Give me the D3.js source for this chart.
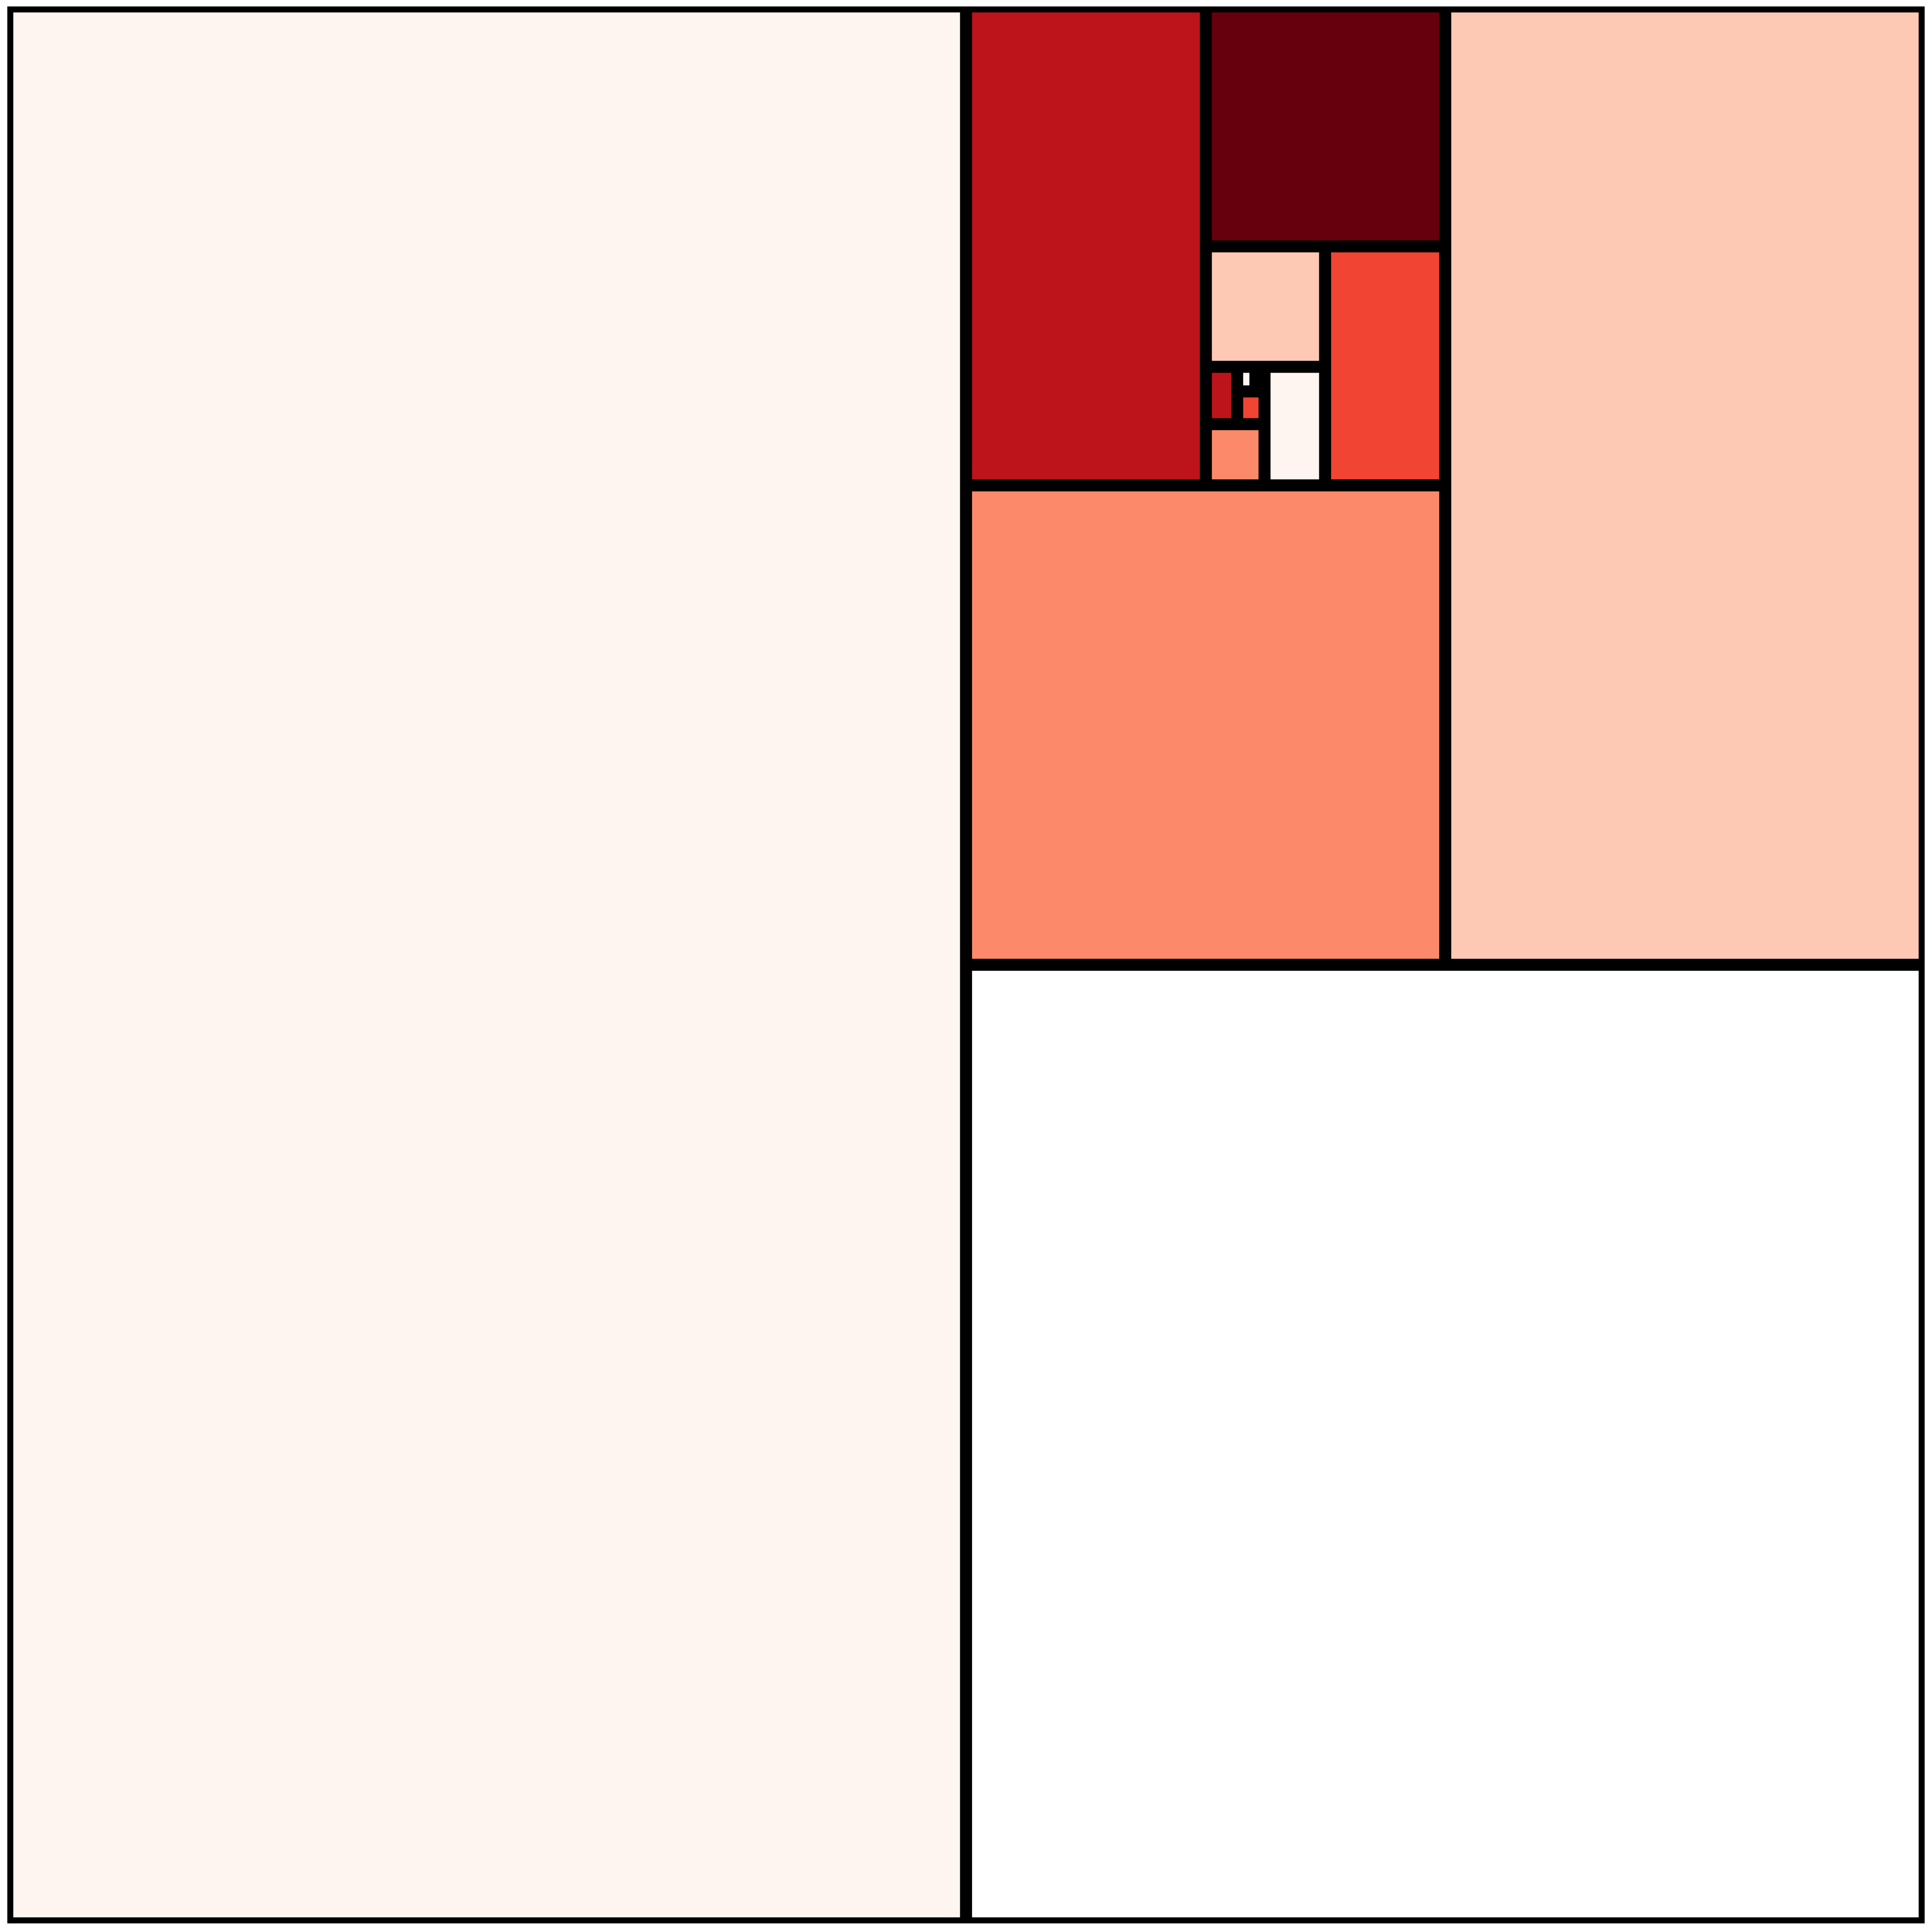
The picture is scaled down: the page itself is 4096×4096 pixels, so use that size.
<!DOCTYPE html>
<html>
<head>
<meta charset="utf-8">
<script src="https://cdn.jsdelivr.net/npm/d3@7"></script>
<style>
html,body{margin:0;padding:0;background:#fff;}
svg{display:block;}
</style>
</head>
<body>
<script>
// Cells of the spiral treemap, in placement order
const cellValues = [1/2, 1/4, 1/8, 1/16, 1/32, 1/64, 1/128, 1/256, 1/512, 1/1024, 1/2048, 1/4096, 1/8192, 1/16384];
const cellSides  = ["left","bottom","right","bottom","left","top","right","top","right","bottom","left","bottom","left","bottom"];
const cellColors = ["#fff5f0","#ffffff","#fdc9b4","#fc8a6a","#bc141a","#67000d","#f14432","#fdc9b4","#fff5f0","#fc8a6a","#bc141a","#f14432","#fff5f0","#67000d"];

const S = 0.91;
const W = 4096, H = 4096;
const svg = d3.select("body").append("svg").attr("width", W).attr("height", H);
svg.append("rect").attr("width", W).attr("height", H).attr("fill", "#fff");

const x = d3.scaleLinear().domain([0, 1]).range([17 * S, 4484 * S]);
const y = d3.scaleLinear().domain([0, 1]).range([15 * S, 4481 * S]);
const inset = 14 * S;

// Layout: each cell takes its share of the remaining region from the given side
let reg = {x0: 0, x1: 1, y0: 0, y1: 1};
let remaining = d3.sum(cellValues);
const cells = [];
cellValues.forEach((v, i) => {
  const f = v / remaining;
  const side = cellSides[i];
  let c;
  if (side === "left") {
    const xm = reg.x0 + (reg.x1 - reg.x0) * f;
    c = {x0: reg.x0, x1: xm, y0: reg.y0, y1: reg.y1}; reg = {...reg, x0: xm};
  } else if (side === "right") {
    const xm = reg.x1 - (reg.x1 - reg.x0) * f;
    c = {x0: xm, x1: reg.x1, y0: reg.y0, y1: reg.y1}; reg = {...reg, x1: xm};
  } else if (side === "top") {
    const ym = reg.y0 + (reg.y1 - reg.y0) * f;
    c = {x0: reg.x0, x1: reg.x1, y0: reg.y0, y1: ym}; reg = {...reg, y0: ym};
  } else {
    const ym = reg.y1 - (reg.y1 - reg.y0) * f;
    c = {x0: reg.x0, x1: reg.x1, y0: ym, y1: reg.y1}; reg = {...reg, y1: ym};
  }
  c.color = cellColors[i];
  cells.push(c);
  remaining -= v;
});

// black base = borders
svg.append("rect")
  .attr("x", x(0)).attr("y", y(0))
  .attr("width", x(1) - x(0)).attr("height", y(1) - y(0))
  .attr("fill", "#000");

svg.selectAll("rect.cell").data(cells).enter().append("rect")
  .attr("class", "cell")
  .attr("x", d => x(d.x0) + inset)
  .attr("y", d => y(d.y0) + inset)
  .attr("width", d => Math.max(0, x(d.x1) - x(d.x0) - 2 * inset))
  .attr("height", d => Math.max(0, y(d.y1) - y(d.y0) - 2 * inset))
  .attr("fill", d => d.color);
</script>
</body>
</html>
